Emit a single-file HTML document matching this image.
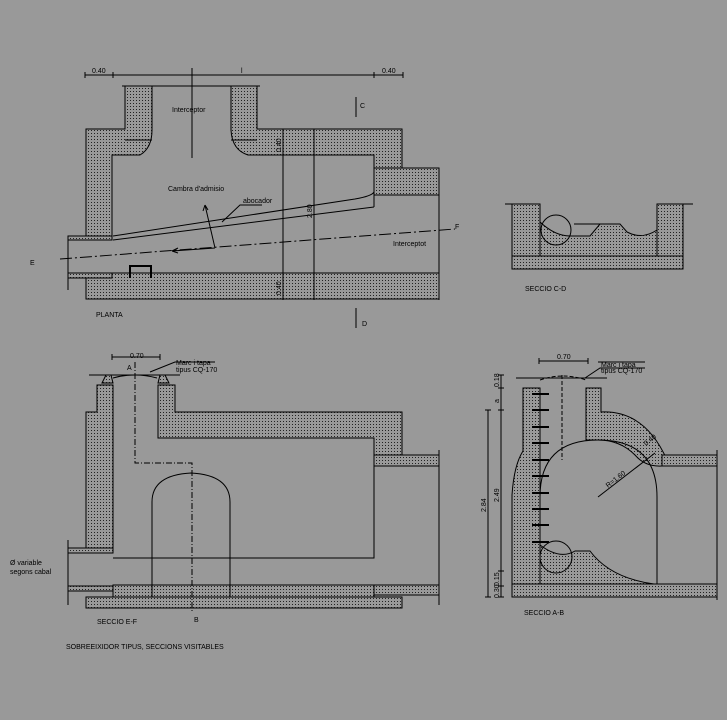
<!DOCTYPE html>
<html><head><meta charset="utf-8"><style>
html,body{margin:0;padding:0;background:#999999;}
svg{display:block}
text{font-family:"Liberation Sans",sans-serif;fill:#000;font-size:7px}
</style></head><body>
<svg width="727" height="720" viewBox="0 0 727 720" xmlns="http://www.w3.org/2000/svg">
<defs>
<pattern id="d" width="3" height="3" patternUnits="userSpaceOnUse"><rect width="3" height="3" fill="#999"/><rect x="1" y="1" width="1" height="1" fill="#222"/></pattern>
</defs>
<rect width="727" height="720" fill="#999999"/>
<g stroke="#000" stroke-width="1" fill="none">
<!-- PLANTA -->
<line x1="85" y1="75" x2="403" y2="75"/>
<path d="M85,72v6M113,72v6M374,72v6M403,72v6M192,68v90" />
<line x1="192" y1="88" x2="192" y2="157" stroke-dasharray="10,3,2,3"/>
<path d="M122,86H260"/>
<path fill="url(#d)" d="M125,86H152V130Q152,148 140,155H112V236H86V129H125Z"/>
<path fill="url(#d)" d="M231,86H257V129H402V168H374V155H248Q232,150 231,130Z"/>
<path d="M125,140H152M231,140H257"/>
<rect fill="url(#d)" x="374" y="168" width="65" height="27"/>
<path d="M374,155V207M439,168V300"/>
<rect fill="url(#d)" x="86" y="273" width="353" height="26"/>
<rect fill="url(#d)" x="68" y="236" width="44" height="4"/>
<rect fill="url(#d)" x="68" y="273" width="44" height="5"/>
<path d="M68,236V290"/>
<path d="M113,236L355,199Q372,196 374,192M113,240L374,207"/>
<path d="M60,259L455,229" stroke-dasharray="12,3,2,3"/>
<path d="M215,248L172,251M172,251l6,-3M172,251l6,2M215,248L205,205M205,205l-2,6M205,205l3,5"/>
<path d="M222,222L240,205H262"/>
<path d="M283,129V300M314,129V300M280,129h6M280,155h6M280,273h6M280,299h6M311,129h6M311,299h6"/>
<path d="M130,278V266H151V278" stroke-width="2"/>
<path d="M356,97V117M356,308V328"/>
<!-- SECCIO C-D -->
<path d="M505,204H540M657,204H693"/>
<path fill="url(#d)" d="M512,204H540V222Q555,236 570,236H590L600,224H620L627,232Q642,240 657,230V204H683V256H512Z"/>
<rect fill="url(#d)" x="512" y="256" width="171" height="13"/>
<path d="M540,204V256M657,204V256"/>
<circle cx="556" cy="230" r="15"/>
<path d="M574,224H600"/>
<!-- SECCIO E-F -->
<path d="M89,375H180M112,357H160M112,354v6M160,354v6M150,372L175,362H215"/>
<path d="M113,378Q135,372 157,378" />
<path fill="url(#d)" d="M97,385H113V548H86V412H97Z"/>
<path fill="url(#d)" d="M158,385H175V412H402V455H374V438H158Z"/>
<path d="M113,558H374V438"/>
<rect fill="url(#d)" x="374" y="455" width="65" height="11"/>
<path d="M439,450V605M68,540V605"/>
<rect fill="url(#d)" x="68" y="548" width="45" height="5"/>
<rect fill="url(#d)" x="68" y="586" width="45" height="5"/>
<path fill="url(#d)" d="M113,585H374V595H439V585H374V597H402V608H86V597H113Z"/>
<path d="M113,585H439M86,597H374"/>
<path d="M152,597V502Q152,475 191,473Q230,475 230,502V597"/>
<path d="M135,362V463H192V612" stroke-dasharray="6,2,1,2"/>
<path d="M102,383l4,-8h5l2,8zM158,383l2,-8h5l4,8z" fill="url(#d)"/>
<!-- SECCIO A-B -->
<path d="M516,378H607M539,361H588M539,358v6M588,358v6M585,378L600,368H645M598,362H645"/>
<path d="M540,380Q563,372 586,380M562,375V460" stroke-dasharray="4,2"/>
<path fill="url(#d)" d="M523,388H540V584H512V495Q514,465 523,451Z"/>
<path fill="url(#d)" d="M586,388H601V412Q645,410 667,460V466H662Q645,467 635,455Q620,440 598,440Q586,440 586,440Z"/>
<path d="M540,497Q540,440 598,440Q657,440 657,497V584"/>
<rect fill="url(#d)" x="662" y="455" width="55" height="11"/>
<path d="M717,450V600"/>
<path fill="url(#d)" d="M540,584V545Q560,560 575,551H590Q610,578 654,584Z"/>
<circle cx="556" cy="557" r="16"/>
<rect fill="url(#d)" x="512" y="584" width="205" height="13"/>
<g stroke-width="2"><path d="M532,394h17M532,410h17M532,427h17M532,443h17M532,460h17M532,476h17M532,493h17M532,509h17M532,525h17M532,542h17"/></g>
<path d="M598,497L655,453M488,410V597M501,375V597M485,410h6M485,597h6M498,375h6M498,388h6M498,410h6M498,571h6M498,586h6M498,597h6"/>
</g>
<text x="92" y="73">0.40</text><text x="382" y="73">0.40</text><text x="241" y="73">l</text>
<text x="172" y="112" font-size="6">Interceptor</text>
<text x="168" y="191" font-size="6">Cambra d'admisio</text>
<text x="243" y="203" font-size="6">abocador</text>
<text x="393" y="246" font-size="6">Interceptot</text>
<text x="30" y="265" font-size="9">E</text><text x="455" y="229" font-size="9">F</text>
<text x="360" y="108" font-size="9">C</text><text x="362" y="326" font-size="9">D</text>
<text x="96" y="317">PLANTA</text>
<text transform="translate(281,152) rotate(-90)" font-size="6">0.40</text>
<text transform="translate(281,295) rotate(-90)" font-size="6">0.40</text>
<text transform="translate(312,218) rotate(-90)" font-size="6">2.80</text>
<text x="525" y="291">SECCIO C-D</text>
<text x="130" y="358" font-size="6">0.70</text>
<text x="176" y="365" font-size="6">Marc i tapa</text><text x="176" y="372" font-size="6">tipus CQ-170</text>
<text x="127" y="370" font-size="9">A</text><text x="194" y="622" font-size="9">B</text>
<text x="97" y="624">SECCIO E-F</text>
<text x="10" y="565">Ø variable</text><text x="10" y="574">segons cabal</text>
<text x="66" y="649" font-size="8">SOBREEIXIDOR TIPUS, SECCIONS VISITABLES</text>
<text x="557" y="359" font-size="6">0.70</text>
<text x="601" y="367" font-size="6">Marc i tapa</text><text x="601" y="373" font-size="6">tipus CQ-170</text>
<text transform="translate(486,512) rotate(-90)" font-size="6">2.84</text>
<text transform="translate(499,502) rotate(-90)" font-size="6">2.49</text>
<text transform="translate(499,387) rotate(-90)" font-size="6">0.18</text>
<text transform="translate(499,403) rotate(-90)" font-size="6">a</text>
<text transform="translate(499,586) rotate(-90)" font-size="6">0.15</text>
<text transform="translate(499,598) rotate(-90)" font-size="6">0.30</text>
<text transform="translate(608,488) rotate(-38)" font-size="6">R=1.60</text>
<text transform="translate(646,446) rotate(-38)" font-size="6">0.40</text>
<text x="524" y="615">SECCIO A-B</text>
</svg>
</body></html>
